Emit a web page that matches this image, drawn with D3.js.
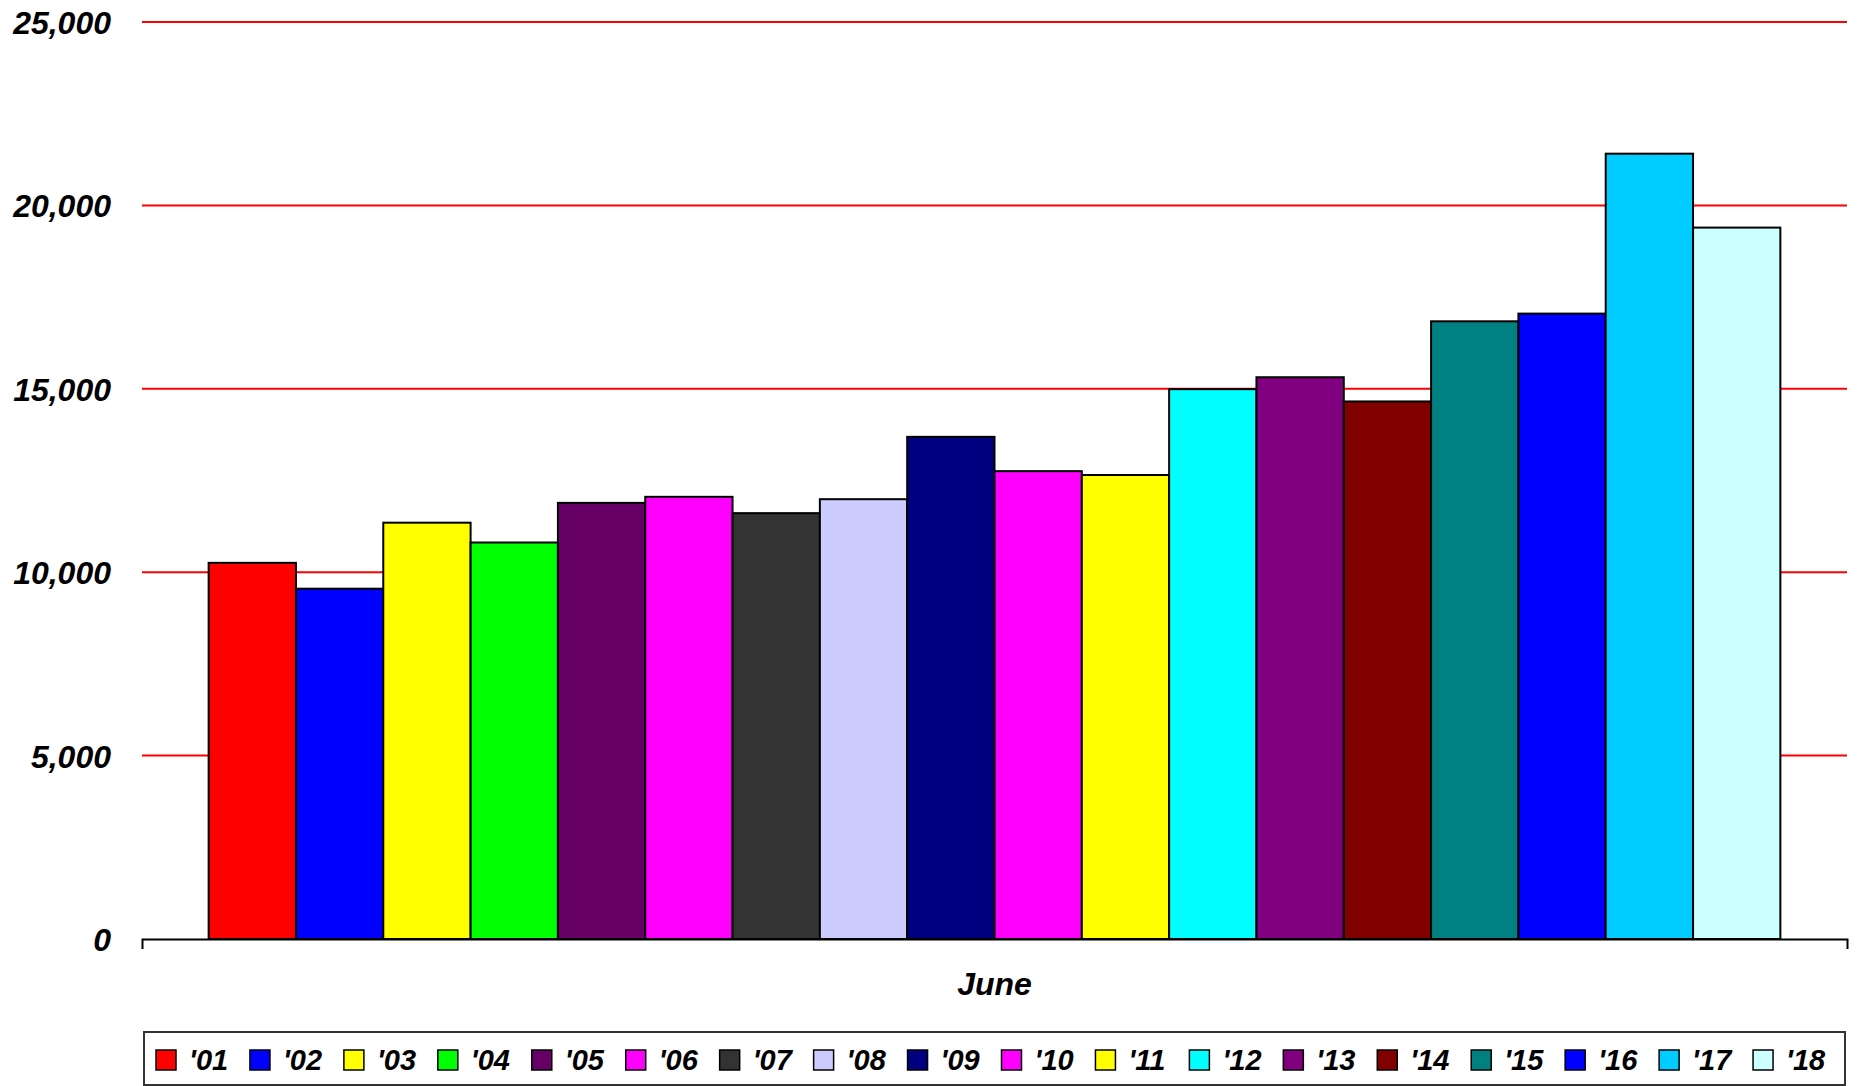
<!DOCTYPE html>
<html>
<head>
<meta charset="utf-8">
<script src="https://cdn.jsdelivr.net/npm/d3@7"></script>
<style>
  html, body { margin: 0; padding: 0; background: #fff; }
  svg text { font-family: "Liberation Sans", Arial, sans-serif; font-weight: bold; font-style: italic; fill: #000; }
</style>
</head>
<body>
<div id="chart"></div>
<script>
// ===========================================
// Data
var categories = ["June"];
var years = ["'01", "'02", "'03", "'04", "'05", "'06", "'07", "'08", "'09",
             "'10", "'11", "'12", "'13", "'14", "'15", "'16", "'17", "'18"];
var juneValues = [10255, 9550, 11350, 10810, 11890, 12055, 11610, 11990, 13690,
                  12755, 12650, 14990, 15315, 14655, 16840, 17050, 21410, 19395];
var yTicks = [0, 5000, 10000, 15000, 20000, 25000];
var yearColors = ["#FF0000", "#0000FF", "#FFFF00", "#00FF00", "#660066", "#FF00FF",
                  "#333333", "#CCCCFF", "#000080", "#FF00FF", "#FFFF00", "#00FFFF",
                  "#800080", "#800000", "#008080", "#0000FF", "#00CCFF", "#CCFFFF"];

// ===========================================
// Set up SVG element & chart area
var svgWidth = 1860;
var svgHeight = 1086;

var plot = {left: 142, right: 1847, top: 22, bottom: 939};

var svg = d3.select("#chart")
    .append("svg")
    .attr("width", svgWidth)
    .attr("height", svgHeight);

var yscale = d3.scaleLinear().domain([0, 25000]).range([plot.bottom, plot.top]);

var xcat = d3.scaleBand()
    .domain(categories)
    .range([plot.left, plot.right])
    .paddingOuter(0.0424);

var xyear = d3.scaleBand()
    .domain(years)
    .range([0, xcat.bandwidth()]);

var color = d3.scaleOrdinal().domain(years).range(yearColors);

// gridlines (red, no value-axis line)
svg.append("g")
    .selectAll("line")
    .data(yTicks.filter(d => d > 0))
    .enter()
    .append("line")
    .attr("x1", plot.left)
    .attr("x2", plot.right)
    .attr("y1", d => yscale(d))
    .attr("y2", d => yscale(d))
    .attr("stroke", "#FF0000")
    .attr("stroke-width", 2);

// y tick labels
var l_axis = d3.axisLeft(yscale)
    .tickValues(yTicks)
    .tickFormat(d3.format(","))
    .tickSize(0)
    .tickPadding(31);

var yAxisG = svg.append("g")
    .attr("transform", `translate(${plot.left},0)`)
    .call(l_axis);
yAxisG.select(".domain").remove();
yAxisG.selectAll("text")
    .attr("font-size", "32px")
    .attr("font-family", null)
    .attr("dy", "0.36em");

// bars
var rows = years.map((y, i) => ({year: y, value: juneValues[i], month: categories[0]}));

svg.append("g")
    .selectAll("rect")
    .data(rows)
    .enter()
    .append("rect")
    .attr("x", d => xcat(d.month) + xyear(d.year))
    .attr("y", d => yscale(d.value))
    .attr("width", xyear.bandwidth())
    .attr("height", d => yscale(0) - yscale(d.value))
    .attr("fill", d => color(d.year))
    .attr("stroke", "#000")
    .attr("stroke-width", 2);

// category axis
var b_axis = d3.axisBottom(d3.scaleBand().domain(categories).range([plot.left, plot.right]))
    .tickSize(0)
    .tickSizeOuter(10)
    .tickPadding(0);

var xAxisG = svg.append("g")
    .attr("transform", `translate(0,${plot.bottom})`)
    .call(b_axis);
xAxisG.select(".domain")
    .attr("stroke", "#000")
    .attr("stroke-width", 2);
xAxisG.selectAll("text")
    .attr("font-size", "32px")
    .attr("font-family", null)
    .attr("dy", null)
    .attr("y", 56);

// legend
var legend = svg.append("g");

legend.append("rect")
    .attr("x", 144)
    .attr("y", 1032)
    .attr("width", 1701)
    .attr("height", 53)
    .attr("fill", "#fff")
    .attr("stroke", "#333")
    .attr("stroke-width", 2);

var lx = d3.scaleBand().domain(years).range([156, 1847]);

var items = legend.selectAll("g.item")
    .data(years)
    .enter()
    .append("g")
    .attr("class", "item")
    .attr("transform", d => `translate(${lx(d)},1050)`);

items.append("rect")
    .attr("width", 20)
    .attr("height", 20)
    .attr("fill", d => color(d))
    .attr("stroke", "#000")
    .attr("stroke-width", 1.5);

items.append("text")
    .attr("x", 33)
    .attr("y", 20)
    .attr("font-size", "29px")
    .text(d => d);
</script>
</body>
</html>
